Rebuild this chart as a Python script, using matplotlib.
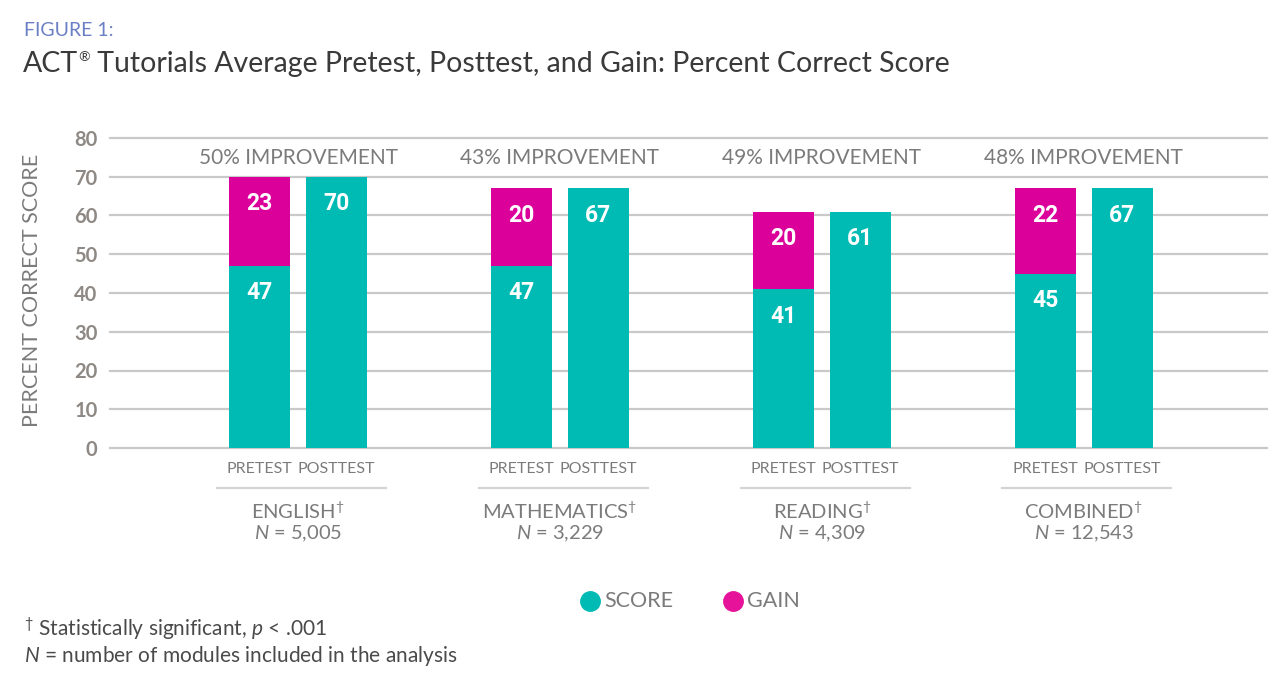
import matplotlib
matplotlib.use("Agg")
import matplotlib.pyplot as plt
import matplotlib.transforms as mtrans
from matplotlib.lines import Line2D

plt.rcParams['font.family'] = ['Lato', 'DejaVu Sans']
plt.rcParams['mathtext.fontset'] = 'custom'
plt.rcParams['mathtext.rm'] = 'Lato'
plt.rcParams['mathtext.it'] = 'Lato:italic'
plt.rcParams['mathtext.bf'] = 'Lato:bold'

# ---- data ----
subjects = ["ENGLISH", "MATHEMATICS", "READING", "COMBINED"]
n_modules = ["5,005", "3,229", "4,309", "12,543"]
pretest = [47, 47, 41, 45]
gain = [23, 20, 20, 22]
posttest = [70, 67, 61, 67]
improvement = ["50%", "43%", "49%", "48%"]
bar_labels = ["PRETEST", "POSTTEST"]
yticks = [0, 10, 20, 30, 40, 50, 60, 70, 80]

TEAL = "#00BBB4"
MAGENTA = "#DC009B"
GAIN_LEG = "#E6139A"
GRAY = "#7b7b7b"
TICKGRAY = "#8e8984"
GRID = "#c9c9c9"

W, H = 1287, 686
fig = plt.figure(figsize=(W / 100, H / 100), dpi=100)
ax = fig.add_axes([110 / W, 1 - 448 / H, (1267 - 110) / W, (448 - 138) / H])

off = 0.147
bw = 0.233
xs = list(range(len(subjects)))
pre_x = [x - off for x in xs]
post_x = [x + off for x in xs]

ax.bar(pre_x, pretest, width=bw, color=TEAL, zorder=3)
ax.bar(pre_x, gain, width=bw, bottom=pretest, color=MAGENTA, zorder=3)
ax.bar(post_x, posttest, width=bw, color=TEAL, zorder=3)

ax.set_xlim(-0.718, 3.700)
ax.set_ylim(0, 80)
ax.set_yticks(yticks)
ax.set_yticklabels([str(v) for v in yticks], fontsize=14.5, fontweight='bold', color=TICKGRAY)
ax.tick_params(axis='y', length=0, pad=9)
ax.set_xticks([])
for s in ax.spines.values():
    s.set_visible(False)
for v in yticks:
    ax.axhline(v, color=GRID, lw=1.6, zorder=1, clip_on=False)

ax.set_ylabel("PERCENT CORRECT SCORE", fontsize=15.5, color=GRAY)
ax.yaxis.set_label_coords((42 - 110) / 1157, 0.51)

lab_kw = dict(ha='center', va='center', color='white', fontsize=16.5,
              fontweight='bold', family=['Roboto', 'DejaVu Sans'], zorder=4)
for i in xs:
    ax.text(pre_x[i], pretest[i] + gain[i] - 7, str(gain[i]), **lab_kw)
    ax.text(pre_x[i], pretest[i] - 7, str(pretest[i]), **lab_kw)
    ax.text(post_x[i], posttest[i] - 7, str(posttest[i]), **lab_kw)

tr = mtrans.blended_transform_factory(ax.transData, fig.transFigure)
def fy(py):
    return 1 - py / H

for i in xs:
    ax.text(i, fy(158), f"{improvement[i]} IMPROVEMENT", transform=tr,
            ha='center', va='center', fontsize=15, color=GRAY)
    ax.text(pre_x[i], fy(469), bar_labels[0], transform=tr,
            ha='center', va='center', fontsize=11.5, color=GRAY)
    ax.text(post_x[i], fy(469), bar_labels[1], transform=tr,
            ha='center', va='center', fontsize=11.5, color=GRAY)
    ax.add_line(Line2D([i - 0.31, i + 0.335], [fy(488), fy(488)], transform=tr,
                       color="#d4d4d4", lw=1.6, clip_on=False))
    ax.text(i, fy(511), subjects[i] + "$^{†}$", transform=tr,
            ha='center', va='center', fontsize=14.5, color=GRAY)
    ax.text(i, fy(534), "$N$ = " + n_modules[i], transform=tr,
            ha='center', va='center', fontsize=14.5, color=GRAY)

fig.text(24 / W, fy(30), "FIGURE 1:", fontsize=14, color="#6b7fc4", va='center', ha='left')

# title with small superscript registered mark
TCOL = "#3a3a3a"
renderer = fig.canvas.get_renderer()
t1 = fig.text(23 / W, fy(64), "ACT", fontsize=20.5, color=TCOL, va='center', ha='left')
bb = t1.get_window_extent(renderer)
t2 = fig.text((bb.x1 + 0.5) / W, fy(57), "®", fontsize=10, color=TCOL, va='center', ha='left')
bb2 = t2.get_window_extent(renderer)
fig.text((bb2.x1) / W, fy(64), " Tutorials Average Pretest, Posttest, and Gain: Percent Correct Score",
         fontsize=20.5, color=TCOL, va='center', ha='left')

# legend
fig.add_artist(Line2D([590 / W], [fy(601)], marker='o', markersize=14, color=TEAL,
                      linestyle='none', transform=fig.transFigure))
fig.text(604 / W, fy(601), "SCORE", fontsize=15.5, color=GRAY, va='center', ha='left')
fig.add_artist(Line2D([733 / W], [fy(601)], marker='o', markersize=14, color=GAIN_LEG,
                      linestyle='none', transform=fig.transFigure))
fig.text(747 / W, fy(601), "GAIN", fontsize=15.5, color=GRAY, va='center', ha='left')

fig.text(24 / W, fy(629), "$^{†}$ Statistically significant, $p$ < .001", fontsize=15,
         color="#4a4a4a", va='center', ha='left')
fig.text(24 / W, fy(656), "$N$ = number of modules included in the analysis", fontsize=15,
         color="#4a4a4a", va='center', ha='left')

fig.savefig("out.png", dpi=100)
